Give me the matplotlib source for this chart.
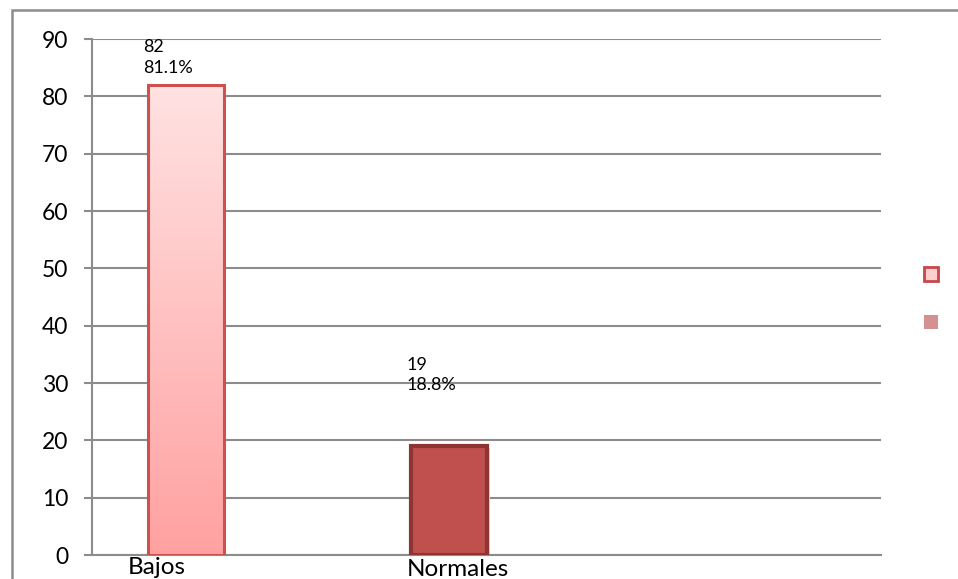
import numpy as np
import matplotlib
matplotlib.use("Agg")
import matplotlib.pyplot as plt
from matplotlib.patches import Rectangle
from matplotlib.colors import LinearSegmentedColormap
from matplotlib.transforms import blended_transform_factory

plt.rcParams['font.family'] = ['Lato', 'DejaVu Sans']

# Data
categories = ["Bajos", "Normales"]
counts = [82, 19]
percent_labels = ["81.1%", "18.8%"]
y_ticks = [0, 10, 20, 30, 40, 50, 60, 70, 80, 90]

# Layout helpers (category slots on a 0..3 axis, bars sit left of slot centre)
bar_pos = [0.357, 1.359]
bar_width = 0.289
label_pos = [0.247, 1.39]
label_valign = ["bottom", "baseline"]
label_y = [1 / 579, 3 / 579]
value_label_lift = [1.6, 9.2]

fig = plt.figure(figsize=(9.58, 5.79), dpi=100)
fig.patch.set_facecolor("white")

# outer chart frame (runs past the right / bottom edge)
frame = Rectangle((12 / 958, -0.1), 1.2, 1 - 10 / 579 + 0.1, transform=fig.transFigure,
                  fill=False, edgecolor="#8c8c8c", linewidth=1.8, zorder=0)
fig.patches.append(frame)

ax = fig.add_axes([92 / 958, 1 - 555 / 579, (881 - 92) / 958, (555 - 39) / 579])
ax.set_xlim(0, 3)
ax.set_ylim(0, 90)
ax.set_yticks(y_ticks)
ax.set_yticklabels([str(t) for t in y_ticks], fontsize=16.5)
ax.set_xticks([])
ax.yaxis.grid(True, color="#8c8c8c", linewidth=1.5)
ax.set_axisbelow(True)
for side in ["top", "right"]:
    ax.spines[side].set_visible(False)
for side in ["left", "bottom"]:
    ax.spines[side].set_color("#8c8c8c")
    ax.spines[side].set_linewidth(1.5)
ax.tick_params(axis="y", length=6, width=1.5, color="#8c8c8c", pad=11)

light_cmap = LinearSegmentedColormap.from_list("light", ["#ffa1a1", "#ffe2e2"])
fills = [None, "#c0504d"]
edges = ["#d0504e", "#8e3432"]

for i, (x, v) in enumerate(zip(bar_pos, counts)):
    # soft shadow
    ax.bar(x + 0.008, v, width=bar_width, bottom=-0.4, color="#d9d9d9",
           edgecolor="none", zorder=2)
    if fills[i] is None:
        b = ax.bar(x, v, width=bar_width, color="none", edgecolor=edges[i],
                   linewidth=2.2, zorder=4)[0]
        grad = np.linspace(0, 1, 256).reshape(-1, 1)
        im = ax.imshow(grad, cmap=light_cmap, origin="lower", aspect="auto",
                       extent=(x - bar_width / 2, x + bar_width / 2, 0, v), zorder=3)
        im.set_clip_path(b)
    else:
        ax.bar(x, v, width=bar_width, color=fills[i], edgecolor=edges[i],
               linewidth=3, zorder=4)
    ax.text(x - bar_width / 2 - 0.02, v + value_label_lift[i],
            f"{v}\n{percent_labels[i]}", fontsize=13, ha="left", va="bottom",
            linespacing=1.35, zorder=5)

ax.set_xlim(0, 3)
ax.set_ylim(0, 90)

# category names sit on the bottom edge of the chart
cat_tr = blended_transform_factory(ax.transData, fig.transFigure)
for name, lx, va, ly in zip(categories, label_pos, label_valign, label_y):
    ax.text(lx, ly, name, transform=cat_tr, fontsize=17.5, ha="center", va=va,
            clip_on=False)

# legend swatches without text
fig_w, fig_h = 958, 579
sw = 14
leg1 = Rectangle(((924) / fig_w, 1 - (281) / fig_h), sw / fig_w, sw / fig_h,
                 transform=fig.transFigure, facecolor="#ffcfcf", edgecolor="#c8484a",
                 linewidth=2)
leg2 = Rectangle(((924) / fig_w, 1 - (329) / fig_h), sw / fig_w, sw / fig_h,
                 transform=fig.transFigure, facecolor="#d49191", edgecolor="none")
fig.patches.extend([leg1, leg2])

fig.savefig("out.png", dpi=100)
